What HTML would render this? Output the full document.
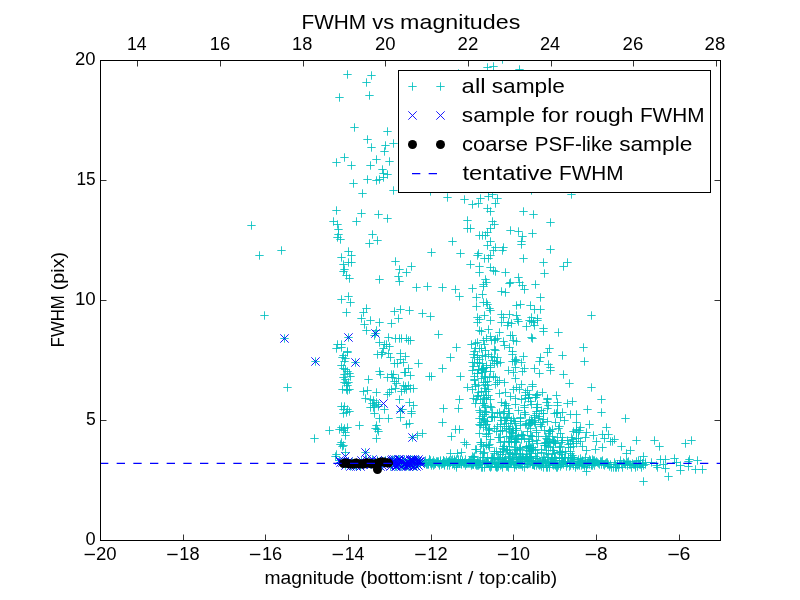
<!DOCTYPE html>
<html><head><meta charset="utf-8"><style>
html,body{margin:0;padding:0;background:#fff;}
body{width:800px;height:600px;position:relative;overflow:hidden;font-family:"Liberation Sans",sans-serif;color:#000;}
</style></head><body>
<svg width="800" height="600" viewBox="0 0 800 600" style="position:absolute;left:0;top:0;will-change:transform;font-family:&quot;Liberation Sans&quot;,sans-serif" fill="#000">
<rect x="0" y="0" width="800" height="600" fill="#fff"/>
<defs><clipPath id="cp"><rect x="100" y="60" width="621" height="481"/></clipPath></defs>
<g clip-path="url(#cp)">
<path d="M434.3 334.5H442.7M438.5 330.3V338.7M452.3 347.5H460.7M456.5 343.3V351.7M446.3 357.5H454.7M450.5 353.3V361.7M467.3 344.5H475.7M471.5 340.3V348.7M471.3 343.5H479.7M475.5 339.3V347.7M473.3 342.5H481.7M477.5 338.3V346.7M471.3 348.5H479.7M475.5 344.3V352.7M475.3 348.5H483.7M479.5 344.3V352.7M469.3 354.5H477.7M473.5 350.3V358.7M470.3 357.5H478.7M474.5 353.3V361.7M473.3 355.5H481.7M477.5 351.3V359.7M470.3 362.5H478.7M474.5 358.3V366.7M473.3 362.5H481.7M477.5 358.3V366.7M475.3 359.5H483.7M479.5 355.3V363.7M473.3 322.5H481.7M477.5 318.3V326.7M475.3 330.5H483.7M479.5 326.3V334.7M486.3 320.5H494.7M490.5 316.3V324.7M497.3 322.5H505.7M501.5 318.3V326.7M503.3 325.5H511.7M507.5 321.3V329.7M507.3 323.5H515.7M511.5 319.3V327.7M514.3 321.5H522.7M518.5 317.3V325.7M522.3 326.5H530.7M526.5 322.3V330.7M525.3 320.5H533.7M529.5 316.3V324.7M477.3 331.5H485.7M481.5 327.3V335.7M484.3 329.5H492.7M488.5 325.3V333.7M495.3 332.5H503.7M499.5 328.3V336.7M506.3 335.5H514.7M510.5 331.3V339.7M508.3 335.5H516.7M512.5 331.3V339.7M509.3 340.5H517.7M513.5 336.3V344.7M512.3 341.5H520.7M516.5 337.3V345.7M479.3 340.5H487.7M483.5 336.3V344.7M482.3 338.5H490.7M486.5 334.3V342.7M486.3 336.5H494.7M490.5 332.3V340.7M487.3 340.5H495.7M491.5 336.3V344.7M491.3 339.5H499.7M495.5 335.3V343.7M493.3 338.5H501.7M497.5 334.3V342.7M490.3 340.5H498.7M494.5 336.3V344.7M499.3 341.5H507.7M503.5 337.3V345.7M500.3 345.5H508.7M504.5 341.3V349.7M505.3 347.5H513.7M509.5 343.3V351.7M477.3 348.5H485.7M481.5 344.3V352.7M480.3 344.5H488.7M484.5 340.3V348.7M470.3 351.5H478.7M474.5 347.3V355.7M481.3 350.5H489.7M485.5 346.3V354.7M490.3 349.5H498.7M494.5 345.3V353.7M491.3 350.5H499.7M495.5 346.3V354.7M508.3 351.5H516.7M512.5 347.3V355.7M508.3 354.5H516.7M512.5 350.3V358.7M519.3 356.5H527.7M523.5 352.3V360.7M473.3 357.5H481.7M477.5 353.3V361.7M478.3 355.5H486.7M482.5 351.3V359.7M481.3 356.5H489.7M485.5 352.3V360.7M484.3 354.5H492.7M488.5 350.3V358.7M487.3 356.5H495.7M491.5 352.3V360.7M490.3 357.5H498.7M494.5 353.3V361.7M493.3 357.5H501.7M497.5 353.3V361.7M488.3 360.5H496.7M492.5 356.3V364.7M492.3 361.5H500.7M496.5 357.3V365.7M475.3 363.5H483.7M479.5 359.3V367.7M478.3 363.5H486.7M482.5 359.3V367.7M468.3 362.5H476.7M472.5 358.3V366.7M493.3 363.5H501.7M497.5 359.3V367.7M496.3 362.5H504.7M500.5 358.3V366.7M511.3 359.5H519.7M515.5 355.3V363.7M508.3 361.5H516.7M512.5 357.3V365.7M512.3 360.5H520.7M516.5 356.3V364.7M517.3 362.5H525.7M521.5 358.3V366.7M510.3 361.5H518.7M514.5 357.3V365.7M511.3 367.5H519.7M515.5 363.3V371.7M504.3 370.5H512.7M508.5 366.3V374.7M509.3 372.5H517.7M513.5 368.3V376.7M520.3 368.5H528.7M524.5 364.3V372.7M518.3 371.5H526.7M522.5 367.3V375.7M511.3 378.5H519.7M515.5 374.3V382.7M500.3 382.5H508.7M504.5 378.3V386.7M517.3 384.5H525.7M521.5 380.3V388.7M509.3 389.5H517.7M513.5 385.3V393.7M512.3 387.5H520.7M516.5 383.3V391.7M515.3 389.5H523.7M519.5 385.3V393.7M501.3 392.5H509.7M505.5 388.3V396.7M495.3 393.5H503.7M499.5 389.3V397.7M506.3 396.5H514.7M510.5 392.3V400.7M511.3 398.5H519.7M515.5 394.3V402.7M523.3 390.5H531.7M527.5 386.3V394.7M521.3 392.5H529.7M525.5 388.3V396.7M517.3 399.5H525.7M521.5 395.3V403.7M497.3 402.5H505.7M501.5 398.3V406.7M501.3 403.5H509.7M505.5 399.3V407.7M511.3 404.5H519.7M515.5 400.3V408.7M490.3 363.5H498.7M494.5 359.3V367.7M489.3 376.5H497.7M493.5 372.3V380.7M491.3 377.5H499.7M495.5 373.3V381.7M495.3 380.5H503.7M499.5 376.3V384.7M491.3 384.5H499.7M495.5 380.3V388.7M493.3 382.5H501.7M497.5 378.3V386.7M528.3 384.5H536.7M532.5 380.3V388.7M528.3 386.5H536.7M532.5 382.3V390.7M538.3 392.5H546.7M542.5 388.3V396.7M533.3 394.5H541.7M537.5 390.3V398.7M525.3 394.5H533.7M529.5 390.3V398.7M342.3 312.5H350.7M346.5 308.3V316.7M362.3 308.5H370.7M366.5 304.3V312.7M359.3 312.5H367.7M363.5 308.3V316.7M357.3 318.5H365.7M361.5 314.3V322.7M366.3 320.5H374.7M370.5 316.3V324.7M360.3 324.5H368.7M364.5 320.3V328.7M362.3 330.5H370.7M366.5 326.3V334.7M375.3 322.5H383.7M379.5 318.3V326.7M344.3 337.5H352.7M348.5 333.3V341.7M371.3 333.5H379.7M375.5 329.3V337.7M370.3 335.5H378.7M374.5 331.3V339.7M372.3 330.5H380.7M376.5 326.3V334.7M333.3 344.5H341.7M337.5 340.3V348.7M337.3 344.5H345.7M341.5 340.3V348.7M332.3 348.5H340.7M336.5 344.3V352.7M337.3 347.5H345.7M341.5 343.3V351.7M343.3 351.5H351.7M347.5 347.3V355.7M343.3 352.5H351.7M347.5 348.3V356.7M339.3 355.5H347.7M343.5 351.3V359.7M338.3 357.5H346.7M342.5 353.3V361.7M341.3 358.5H349.7M345.5 354.3V362.7M373.3 354.5H381.7M377.5 350.3V358.7M375.3 342.5H383.7M379.5 338.3V346.7M390.3 311.5H398.7M394.5 307.3V315.7M396.3 309.5H404.7M400.5 305.3V313.7M405.3 310.5H413.7M409.5 306.3V314.7M418.3 313.5H426.7M422.5 309.3V317.7M426.3 316.5H434.7M430.5 312.3V320.7M394.3 318.5H402.7M398.5 314.3V322.7M387.3 323.5H395.7M391.5 319.3V327.7M384.3 337.5H392.7M388.5 333.3V341.7M391.3 338.5H399.7M395.5 334.3V342.7M395.3 338.5H403.7M399.5 334.3V342.7M397.3 338.5H405.7M401.5 334.3V342.7M402.3 338.5H410.7M406.5 334.3V342.7M404.3 340.5H412.7M408.5 336.3V344.7M406.3 340.5H414.7M410.5 336.3V344.7M380.3 344.5H388.7M384.5 340.3V348.7M382.3 344.5H390.7M386.5 340.3V348.7M385.3 346.5H393.7M389.5 342.3V350.7M379.3 348.5H387.7M383.5 344.3V352.7M377.3 354.5H385.7M381.5 350.3V358.7M378.3 352.5H386.7M382.5 348.3V356.7M384.3 353.5H392.7M388.5 349.3V357.7M386.3 357.5H394.7M390.5 353.3V361.7M396.3 353.5H404.7M400.5 349.3V357.7M401.3 356.5H409.7M405.5 352.3V360.7M396.3 359.5H404.7M400.5 355.3V363.7M311.3 361.5H319.7M315.5 357.3V365.7M351.3 362.5H359.7M355.5 358.3V366.7M340.3 361.5H348.7M344.5 357.3V365.7M337.3 365.5H345.7M341.5 361.3V369.7M339.3 368.5H347.7M343.5 364.3V372.7M341.3 369.5H349.7M345.5 365.3V373.7M343.3 371.5H351.7M347.5 367.3V375.7M345.3 373.5H353.7M349.5 369.3V377.7M340.3 374.5H348.7M344.5 370.3V378.7M346.3 376.5H354.7M350.5 372.3V380.7M339.3 377.5H347.7M343.5 373.3V381.7M341.3 379.5H349.7M345.5 375.3V383.7M344.3 382.5H352.7M348.5 378.3V386.7M342.3 383.5H350.7M346.5 379.3V387.7M340.3 382.5H348.7M344.5 378.3V386.7M343.3 385.5H351.7M347.5 381.3V389.7M338.3 389.5H346.7M342.5 385.3V393.7M342.3 389.5H350.7M346.5 385.3V393.7M345.3 389.5H353.7M349.5 385.3V393.7M343.3 390.5H351.7M347.5 386.3V394.7M364.3 379.5H372.7M368.5 375.3V383.7M375.3 371.5H383.7M379.5 367.3V375.7M359.3 391.5H367.7M363.5 387.3V395.7M363.3 390.5H371.7M367.5 386.3V394.7M361.3 398.5H369.7M365.5 394.3V402.7M372.3 392.5H380.7M376.5 388.3V396.7M366.3 399.5H374.7M370.5 395.3V403.7M369.3 400.5H377.7M373.5 396.3V404.7M368.3 403.5H376.7M372.5 399.3V407.7M372.3 402.5H380.7M376.5 398.3V406.7M369.3 407.5H377.7M373.5 403.3V411.7M366.3 407.5H374.7M370.5 403.3V411.7M374.3 404.5H382.7M378.5 400.3V408.7M337.3 406.5H345.7M341.5 402.3V410.7M340.3 406.5H348.7M344.5 402.3V410.7M343.3 409.5H351.7M347.5 405.3V413.7M339.3 409.5H347.7M343.5 405.3V413.7M390.3 363.5H398.7M394.5 359.3V367.7M393.3 363.5H401.7M397.5 359.3V367.7M399.3 362.5H407.7M403.5 358.3V366.7M414.3 363.5H422.7M418.5 359.3V367.7M438.3 368.5H446.7M442.5 364.3V372.7M376.3 374.5H384.7M380.5 370.3V378.7M404.3 368.5H412.7M408.5 364.3V372.7M400.3 372.5H408.7M404.5 368.3V376.7M401.3 372.5H409.7M405.5 368.3V376.7M406.3 375.5H414.7M410.5 371.3V379.7M387.3 374.5H395.7M391.5 370.3V378.7M389.3 374.5H397.7M393.5 370.3V378.7M383.3 377.5H391.7M387.5 373.3V381.7M388.3 377.5H396.7M392.5 373.3V381.7M394.3 378.5H402.7M398.5 374.3V382.7M390.3 381.5H398.7M394.5 377.3V385.7M392.3 383.5H400.7M396.5 379.3V387.7M425.3 376.5H433.7M429.5 372.3V380.7M427.3 376.5H435.7M431.5 372.3V380.7M399.3 385.5H407.7M403.5 381.3V389.7M401.3 386.5H409.7M405.5 382.3V390.7M404.3 385.5H412.7M408.5 381.3V389.7M400.3 389.5H408.7M404.5 385.3V393.7M402.3 389.5H410.7M406.5 385.3V393.7M406.3 388.5H414.7M410.5 384.3V392.7M409.3 388.5H417.7M413.5 384.3V392.7M397.3 391.5H405.7M401.5 387.3V395.7M391.3 388.5H399.7M395.5 384.3V392.7M387.3 389.5H395.7M391.5 385.3V393.7M383.3 394.5H391.7M387.5 390.3V398.7M385.3 392.5H393.7M389.5 388.3V396.7M395.3 399.5H403.7M399.5 395.3V403.7M405.3 402.5H413.7M409.5 398.3V406.7M409.3 405.5H417.7M413.5 401.3V409.7M370.3 405.5H378.7M374.5 401.3V409.7M374.3 406.5H382.7M378.5 402.3V410.7M439.3 408.5H447.7M443.5 404.3V412.7M398.3 409.5H406.7M402.5 405.3V413.7M345.3 411.5H353.7M349.5 407.3V415.7M339.3 413.5H347.7M343.5 409.3V417.7M342.3 412.5H350.7M346.5 408.3V416.7M335.3 429.5H343.7M339.5 425.3V433.7M337.3 427.5H345.7M341.5 423.3V431.7M340.3 428.5H348.7M344.5 424.3V432.7M343.3 427.5H351.7M347.5 423.3V431.7M341.3 432.5H349.7M345.5 428.3V436.7M341.3 435.5H349.7M345.5 431.3V439.7M339.3 430.5H347.7M343.5 426.3V434.7M355.3 425.5H363.7M359.5 421.3V429.7M325.3 430.5H333.7M329.5 426.3V434.7M310.3 438.5H318.7M314.5 434.3V442.7M337.3 442.5H345.7M341.5 438.3V446.7M336.3 444.5H344.7M340.5 440.3V448.7M339.3 445.5H347.7M343.5 441.3V449.7M338.3 446.5H346.7M342.5 442.3V450.7M332.3 454.5H340.7M336.5 450.3V458.7M341.3 452.5H349.7M345.5 448.3V456.7M331.3 456.5H339.7M335.5 452.3V460.7M361.3 452.5H369.7M365.5 448.3V456.7M370.3 413.5H378.7M374.5 409.3V417.7M375.3 418.5H383.7M379.5 414.3V422.7M372.3 425.5H380.7M376.5 421.3V429.7M373.3 429.5H381.7M377.5 425.3V433.7M371.3 428.5H379.7M375.5 424.3V432.7M372.3 438.5H380.7M376.5 434.3V442.7M408.3 437.5H416.7M412.5 433.3V441.7M380.3 409.5H388.7M384.5 405.3V413.7M384.3 418.5H392.7M388.5 414.3V422.7M396.3 417.5H404.7M400.5 413.3V421.7M407.3 411.5H415.7M411.5 407.3V415.7M407.3 413.5H415.7M411.5 409.3V417.7M402.3 424.5H410.7M406.5 420.3V428.7M405.3 423.5H413.7M409.5 419.3V427.7M438.3 422.5H446.7M442.5 418.3V426.7M418.3 433.5H426.7M422.5 429.3V437.7M413.3 435.5H421.7M417.5 431.3V439.7M374.3 431.5H382.7M378.5 427.3V435.7M396.3 411.5H404.7M400.5 407.3V415.7M481.3 279.5H489.7M485.5 275.3V283.7M479.3 284.5H487.7M483.5 280.3V288.7M482.3 282.5H490.7M486.5 278.3V286.7M479.3 286.5H487.7M483.5 282.3V290.7M423.3 286.5H431.7M427.5 282.3V290.7M438.3 287.5H446.7M442.5 283.3V291.7M451.3 289.5H459.7M455.5 285.3V293.7M468.3 288.5H476.7M472.5 284.3V292.7M455.3 296.5H463.7M459.5 292.3V300.7M478.3 294.5H486.7M482.5 290.3V298.7M472.3 297.5H480.7M476.5 293.3V301.7M479.3 302.5H487.7M483.5 298.3V306.7M482.3 302.5H490.7M486.5 298.3V306.7M483.3 304.5H491.7M487.5 300.3V308.7M472.3 306.5H480.7M476.5 302.3V310.7M486.3 310.5H494.7M490.5 306.3V314.7M485.3 308.5H493.7M489.5 304.3V312.7M480.3 315.5H488.7M484.5 311.3V319.7M473.3 317.5H481.7M477.5 313.3V321.7M475.3 319.5H483.7M479.5 315.3V323.7M514.3 277.5H522.7M518.5 273.3V281.7M506.3 282.5H514.7M510.5 278.3V286.7M505.3 283.5H513.7M509.5 279.3V287.7M515.3 282.5H523.7M519.5 278.3V286.7M518.3 285.5H526.7M522.5 281.3V289.7M520.3 289.5H528.7M524.5 285.3V293.7M531.3 284.5H539.7M535.5 280.3V288.7M497.3 291.5H505.7M501.5 287.3V295.7M501.3 292.5H509.7M505.5 288.3V296.7M536.3 297.5H544.7M540.5 293.3V301.7M512.3 305.5H520.7M516.5 301.3V309.7M516.3 304.5H524.7M520.5 300.3V308.7M526.3 305.5H534.7M530.5 301.3V309.7M530.3 309.5H538.7M534.5 305.3V313.7M536.3 309.5H544.7M540.5 305.3V313.7M497.3 314.5H505.7M501.5 310.3V318.7M505.3 314.5H513.7M509.5 310.3V318.7M499.3 317.5H507.7M503.5 313.3V321.7M512.3 315.5H520.7M516.5 311.3V319.7M513.3 319.5H521.7M517.5 315.3V323.7M504.3 322.5H512.7M508.5 318.3V326.7M527.3 317.5H535.7M531.5 313.3V321.7M533.3 318.5H541.7M537.5 314.3V322.7M527.3 321.5H535.7M531.5 317.3V325.7M529.3 322.5H537.7M533.5 318.3V326.7M530.3 325.5H538.7M534.5 321.3V329.7M533.3 320.5H541.7M537.5 316.3V324.7M539.3 328.5H547.7M543.5 324.3V332.7M539.3 331.5H547.7M543.5 327.3V335.7M554.3 332.5H562.7M558.5 328.3V336.7M527.3 337.5H535.7M531.5 333.3V341.7M528.3 338.5H536.7M532.5 334.3V342.7M545.3 348.5H553.7M549.5 344.3V352.7M543.3 352.5H551.7M547.5 348.3V356.7M558.3 355.5H566.7M562.5 351.3V359.7M579.3 347.5H587.7M583.5 343.3V351.7M580.3 361.5H588.7M584.5 357.3V365.7M536.3 357.5H544.7M540.5 353.3V361.7M535.3 361.5H543.7M539.5 357.3V365.7M544.3 364.5H552.7M548.5 360.3V368.7M546.3 367.5H554.7M550.5 363.3V371.7M546.3 370.5H554.7M550.5 366.3V374.7M530.3 368.5H538.7M534.5 364.3V372.7M535.3 373.5H543.7M539.5 369.3V377.7M559.3 374.5H567.7M563.5 370.3V378.7M587.3 387.5H595.7M591.5 383.3V391.7M597.3 399.5H605.7M601.5 395.3V403.7M583.3 409.5H591.7M587.5 405.3V413.7M597.3 412.5H605.7M601.5 408.3V416.7M585.3 424.5H593.7M589.5 420.3V428.7M602.3 427.5H610.7M606.5 423.3V431.7M576.3 427.5H584.7M580.5 423.3V431.7M582.3 432.5H590.7M586.5 428.3V436.7M581.3 437.5H589.7M585.5 433.3V441.7M589.3 435.5H597.7M593.5 431.3V439.7M592.3 441.5H600.7M596.5 437.3V445.7M598.3 434.5H606.7M602.5 430.3V438.7M604.3 434.5H612.7M608.5 430.3V438.7M600.3 438.5H608.7M604.5 434.3V442.7M606.3 441.5H614.7M610.5 437.3V445.7M610.3 439.5H618.7M614.5 435.3V443.7M608.3 441.5H616.7M612.5 437.3V445.7M576.3 441.5H584.7M580.5 437.3V445.7M578.3 446.5H586.7M582.5 442.3V450.7M582.3 450.5H590.7M586.5 446.3V454.7M591.3 449.5H599.7M595.5 445.3V453.7M598.3 447.5H606.7M602.5 443.3V451.7M582.3 471.5H590.7M586.5 467.3V475.7M456.3 376.5H464.7M460.5 372.3V380.7M463.3 387.5H471.7M467.5 383.3V391.7M455.3 399.5H463.7M459.5 395.3V403.7M454.3 408.5H462.7M458.5 404.3V412.7M451.3 429.5H459.7M455.5 425.3V433.7M455.3 429.5H463.7M459.5 425.3V433.7M447.3 436.5H455.7M451.5 432.3V440.7M460.3 442.5H468.7M464.5 438.3V446.7M462.3 444.5H470.7M466.5 440.3V448.7M446.3 453.5H454.7M450.5 449.3V457.7M453.3 453.5H461.7M457.5 449.3V457.7M457.3 452.5H465.7M461.5 448.3V456.7M452.3 467.5H460.7M456.5 463.3V471.7M343.3 74.5H351.7M347.5 70.3V78.7M367.3 75.5H375.7M371.5 71.3V79.7M362.3 82.5H370.7M366.5 78.3V86.7M335.3 97.5H343.7M339.5 93.3V101.7M365.3 95.5H373.7M369.5 91.3V99.7M350.3 127.5H358.7M354.5 123.3V131.7M383.3 131.5H391.7M387.5 127.3V135.7M363.3 139.5H371.7M367.5 135.3V143.7M367.3 147.5H375.7M371.5 143.3V151.7M381.3 145.5H389.7M385.5 141.3V149.7M389.3 143.5H397.7M393.5 139.3V147.7M380.3 151.5H388.7M384.5 147.3V155.7M340.3 157.5H348.7M344.5 153.3V161.7M332.3 162.5H340.7M336.5 158.3V166.7M372.3 159.5H380.7M376.5 155.3V163.7M385.3 161.5H393.7M389.5 157.3V165.7M347.3 165.5H355.7M351.5 161.3V169.7M366.3 165.5H374.7M370.5 161.3V169.7M378.3 169.5H386.7M382.5 165.3V173.7M379.3 173.5H387.7M383.5 169.3V177.7M383.3 174.5H391.7M387.5 170.3V178.7M379.3 177.5H387.7M383.5 173.3V181.7M363.3 179.5H371.7M367.5 175.3V183.7M372.3 180.5H380.7M376.5 176.3V184.7M375.3 179.5H383.7M379.5 175.3V183.7M349.3 183.5H357.7M353.5 179.3V187.7M358.3 193.5H366.7M362.5 189.3V197.7M389.3 190.5H397.7M393.5 186.3V194.7M332.3 210.5H340.7M336.5 206.3V214.7M357.3 213.5H365.7M361.5 209.3V217.7M374.3 214.5H382.7M378.5 210.3V218.7M383.3 218.5H391.7M387.5 214.3V222.7M329.3 221.5H337.7M333.5 217.3V225.7M352.3 221.5H360.7M356.5 217.3V225.7M333.3 224.5H341.7M337.5 220.3V228.7M334.3 229.5H342.7M338.5 225.3V233.7M334.3 234.5H342.7M338.5 230.3V238.7M333.3 237.5H341.7M337.5 233.3V241.7M336.3 239.5H344.7M340.5 235.3V243.7M368.3 234.5H376.7M372.5 230.3V238.7M373.3 240.5H381.7M377.5 236.3V244.7M365.3 243.5H373.7M369.5 239.3V247.7M344.3 251.5H352.7M348.5 247.3V255.7M347.3 255.5H355.7M351.5 251.3V259.7M337.3 257.5H345.7M341.5 253.3V261.7M344.3 262.5H352.7M348.5 258.3V266.7M347.3 262.5H355.7M351.5 258.3V266.7M339.3 264.5H347.7M343.5 260.3V268.7M340.3 269.5H348.7M344.5 265.3V273.7M339.3 271.5H347.7M343.5 267.3V275.7M342.3 275.5H350.7M346.5 271.3V279.7M345.3 278.5H353.7M349.5 274.3V282.7M391.3 261.5H399.7M395.5 257.3V265.7M407.3 266.5H415.7M411.5 262.3V270.7M395.3 269.5H403.7M399.5 265.3V273.7M402.3 272.5H410.7M406.5 268.3V276.7M394.3 276.5H402.7M398.5 272.3V280.7M395.3 281.5H403.7M399.5 277.3V285.7M375.3 279.5H383.7M379.5 275.3V283.7M412.3 287.5H420.7M416.5 283.3V291.7M344.3 296.5H352.7M348.5 292.3V300.7M337.3 299.5H345.7M341.5 295.3V303.7M346.3 302.5H354.7M350.5 298.3V306.7M443.3 197.5H451.7M447.5 193.3V201.7M460.3 199.5H468.7M464.5 195.3V203.7M476.3 198.5H484.7M480.5 194.3V202.7M484.3 196.5H492.7M488.5 192.3V200.7M488.3 194.5H496.7M492.5 190.3V198.7M493.3 198.5H501.7M497.5 194.3V202.7M468.3 204.5H476.7M472.5 200.3V208.7M474.3 203.5H482.7M478.5 199.3V207.7M491.3 203.5H499.7M495.5 199.3V207.7M483.3 208.5H491.7M487.5 204.3V212.7M486.3 211.5H494.7M490.5 207.3V215.7M463.3 220.5H471.7M467.5 216.3V224.7M488.3 221.5H496.7M492.5 217.3V225.7M490.3 224.5H498.7M494.5 220.3V228.7M463.3 228.5H471.7M467.5 224.3V232.7M466.3 228.5H474.7M470.5 224.3V232.7M486.3 228.5H494.7M490.5 224.3V232.7M483.3 232.5H491.7M487.5 228.3V236.7M475.3 235.5H483.7M479.5 231.3V239.7M478.3 235.5H486.7M482.5 231.3V239.7M481.3 235.5H489.7M485.5 231.3V239.7M448.3 241.5H456.7M452.5 237.3V245.7M486.3 241.5H494.7M490.5 237.3V245.7M483.3 245.5H491.7M487.5 241.3V249.7M491.3 247.5H499.7M495.5 243.3V251.7M499.3 247.5H507.7M503.5 243.3V251.7M498.3 250.5H506.7M502.5 246.3V254.7M489.3 250.5H497.7M493.5 246.3V254.7M427.3 252.5H435.7M431.5 248.3V256.7M456.3 253.5H464.7M460.5 249.3V257.7M474.3 253.5H482.7M478.5 249.3V257.7M473.3 255.5H481.7M477.5 251.3V259.7M486.3 255.5H494.7M490.5 251.3V259.7M480.3 258.5H488.7M484.5 254.3V262.7M484.3 258.5H492.7M488.5 254.3V262.7M466.3 264.5H474.7M470.5 260.3V268.7M475.3 266.5H483.7M479.5 262.3V270.7M486.3 267.5H494.7M490.5 263.3V271.7M489.3 270.5H497.7M493.5 266.3V274.7M491.3 271.5H499.7M495.5 267.3V275.7M475.3 272.5H483.7M479.5 268.3V276.7M501.3 272.5H509.7M505.5 268.3V276.7M567.3 194.5H575.7M571.5 190.3V198.7M519.3 211.5H527.7M523.5 207.3V215.7M529.3 214.5H537.7M533.5 210.3V218.7M546.3 222.5H554.7M550.5 218.3V226.7M506.3 230.5H514.7M510.5 226.3V234.7M514.3 231.5H522.7M518.5 227.3V235.7M518.3 236.5H526.7M522.5 232.3V240.7M528.3 233.5H536.7M532.5 229.3V237.7M517.3 241.5H525.7M521.5 237.3V245.7M517.3 244.5H525.7M521.5 240.3V248.7M546.3 249.5H554.7M550.5 245.3V253.7M519.3 258.5H527.7M523.5 254.3V262.7M539.3 262.5H547.7M543.5 258.3V266.7M563.3 262.5H571.7M567.5 258.3V266.7M559.3 266.5H567.7M563.5 262.3V270.7M540.3 273.5H548.7M544.5 269.3V277.7M621.3 418.5H629.7M625.5 414.3V422.7M617.3 446.5H625.7M621.5 442.3V450.7M632.3 440.5H640.7M636.5 436.3V444.7M650.3 440.5H658.7M654.5 436.3V444.7M655.3 446.5H663.7M659.5 442.3V450.7M681.3 443.5H689.7M685.5 439.3V447.7M687.3 440.5H695.7M691.5 436.3V444.7M626.3 450.5H634.7M630.5 446.3V454.7M622.3 453.5H630.7M626.5 449.3V457.7M639.3 456.5H647.7M643.5 452.3V460.7M639.3 481.5H647.7M643.5 477.3V485.7M664.3 476.5H672.7M668.5 472.3V480.7M647.3 462.5H655.7M651.5 458.3V466.7M652.3 465.5H660.7M656.5 461.3V469.7M653.3 467.5H661.7M657.5 463.3V471.7M656.3 459.5H664.7M660.5 455.3V463.7M661.3 459.5H669.7M665.5 455.3V463.7M659.3 464.5H667.7M663.5 460.3V468.7M661.3 468.5H669.7M665.5 464.3V472.7M670.3 458.5H678.7M674.5 454.3V462.7M672.3 462.5H680.7M676.5 458.3V466.7M676.3 465.5H684.7M680.5 461.3V469.7M676.3 470.5H684.7M680.5 466.3V474.7M684.3 461.5H692.7M688.5 457.3V465.7M685.3 459.5H693.7M689.5 455.3V463.7M684.3 466.5H692.7M688.5 462.3V470.7M693.3 460.5H701.7M697.5 456.3V464.7M691.3 469.5H699.7M695.5 465.3V473.7M698.3 469.5H706.7M702.5 465.3V473.7M587.3 315.5H595.7M591.5 311.3V319.7M565.3 383.5H573.7M569.5 379.3V387.7M247.3 225.5H255.7M251.5 221.3V229.7M255.3 255.5H263.7M259.5 251.3V259.7M277.3 250.5H285.7M281.5 246.3V254.7M260.3 315.5H268.7M264.5 311.3V319.7M280.3 338.5H288.7M284.5 334.3V342.7M283.3 387.5H291.7M287.5 383.3V391.7M483.3 67.5H491.7M487.5 63.3V71.7M489.3 66.5H497.7M493.5 62.3V70.7M498.3 59.5H506.7M502.5 55.3V63.7M515.3 69.5H523.7M519.5 65.3V73.7M454.3 73.5H462.7M458.5 69.3V77.7M426.3 191.5H434.7M430.5 187.3V195.7M527.3 190.5H535.7M531.5 186.3V194.7M468.3 370.5H476.7M472.5 366.3V374.7M469.3 366.5H477.7M473.5 362.3V370.7M474.3 369.5H482.7M478.5 365.3V373.7M473.3 373.5H481.7M477.5 369.3V377.7M473.3 373.5H481.7M477.5 369.3V377.7M474.3 369.5H482.7M478.5 365.3V373.7M482.3 365.5H490.7M486.5 361.3V369.7M479.3 368.5H487.7M483.5 364.3V372.7M478.3 369.5H486.7M482.5 365.3V373.7M477.3 369.5H485.7M481.5 365.3V373.7M482.3 367.5H490.7M486.5 363.3V371.7M486.3 367.5H494.7M490.5 363.3V371.7M481.3 371.5H489.7M485.5 367.3V375.7M486.3 371.5H494.7M490.5 367.3V375.7M479.3 368.5H487.7M483.5 364.3V372.7M477.3 370.5H485.7M481.5 366.3V374.7M478.3 372.5H486.7M482.5 368.3V376.7M486.3 365.5H494.7M490.5 361.3V369.7M471.3 384.5H479.7M475.5 380.3V388.7M470.3 376.5H478.7M474.5 372.3V380.7M471.3 386.5H479.7M475.5 382.3V390.7M474.3 385.5H482.7M478.5 381.3V389.7M470.3 379.5H478.7M474.5 375.3V383.7M468.3 389.5H476.7M472.5 385.3V393.7M470.3 380.5H478.7M474.5 376.3V384.7M481.3 384.5H489.7M485.5 380.3V388.7M479.3 382.5H487.7M483.5 378.3V386.7M477.3 378.5H485.7M481.5 374.3V382.7M485.3 377.5H493.7M489.5 373.3V381.7M483.3 381.5H491.7M487.5 377.3V385.7M481.3 382.5H489.7M485.5 378.3V386.7M484.3 389.5H492.7M488.5 385.3V393.7M480.3 388.5H488.7M484.5 384.3V392.7M480.3 376.5H488.7M484.5 372.3V380.7M481.3 377.5H489.7M485.5 373.3V381.7M483.3 385.5H491.7M487.5 381.3V389.7M471.3 403.5H479.7M475.5 399.3V407.7M474.3 392.5H482.7M478.5 388.3V396.7M469.3 398.5H477.7M473.5 394.3V402.7M474.3 395.5H482.7M478.5 391.3V399.7M472.3 399.5H480.7M476.5 395.3V403.7M473.3 396.5H481.7M477.5 392.3V400.7M482.3 391.5H490.7M486.5 387.3V395.7M482.3 397.5H490.7M486.5 393.3V401.7M481.3 391.5H489.7M485.5 387.3V395.7M486.3 399.5H494.7M490.5 395.3V403.7M477.3 391.5H485.7M481.5 387.3V395.7M476.3 399.5H484.7M480.5 395.3V403.7M480.3 398.5H488.7M484.5 394.3V402.7M479.3 395.5H487.7M483.5 391.3V399.7M478.3 403.5H486.7M482.5 399.3V407.7M482.3 399.5H490.7M486.5 395.3V403.7M484.3 395.5H492.7M488.5 391.3V399.7M479.3 403.5H487.7M483.5 399.3V407.7M531.3 397.5H539.7M535.5 393.3V401.7M531.3 397.5H539.7M535.5 393.3V401.7M526.3 401.5H534.7M530.5 397.3V405.7M524.3 397.5H532.7M528.5 393.3V401.7M521.3 398.5H529.7M525.5 394.3V402.7M532.3 395.5H540.7M536.5 391.3V399.7M533.3 404.5H541.7M537.5 400.3V408.7M524.3 398.5H532.7M528.5 394.3V402.7M527.3 404.5H535.7M531.5 400.3V408.7M521.3 395.5H529.7M525.5 391.3V399.7M543.3 398.5H551.7M547.5 394.3V402.7M553.3 402.5H561.7M557.5 398.3V406.7M552.3 395.5H560.7M556.5 391.3V399.7M543.3 399.5H551.7M547.5 395.3V403.7M542.3 402.5H550.7M546.5 398.3V406.7M563.3 403.5H571.7M567.5 399.3V407.7M568.3 401.5H576.7M572.5 397.3V405.7M475.3 410.5H483.7M479.5 406.3V414.7M475.3 418.5H483.7M479.5 414.3V422.7M476.3 412.5H484.7M480.5 408.3V416.7M487.3 417.5H495.7M491.5 413.3V421.7M478.3 418.5H486.7M482.5 414.3V422.7M479.3 419.5H487.7M483.5 415.3V423.7M488.3 417.5H496.7M492.5 413.3V421.7M482.3 412.5H490.7M486.5 408.3V416.7M481.3 411.5H489.7M485.5 407.3V415.7M486.3 406.5H494.7M490.5 402.3V410.7M488.3 412.5H496.7M492.5 408.3V416.7M488.3 416.5H496.7M492.5 412.3V420.7M478.3 416.5H486.7M482.5 412.3V420.7M481.3 407.5H489.7M485.5 403.3V411.7M480.3 405.5H488.7M484.5 401.3V409.7M480.3 414.5H488.7M484.5 410.3V418.7M490.3 417.5H498.7M494.5 413.3V421.7M480.3 414.5H488.7M484.5 410.3V418.7M495.3 412.5H503.7M499.5 408.3V416.7M487.3 407.5H495.7M491.5 403.3V411.7M493.3 413.5H501.7M497.5 409.3V417.7M500.3 405.5H508.7M504.5 401.3V409.7M496.3 417.5H504.7M500.5 413.3V421.7M499.3 413.5H507.7M503.5 409.3V417.7M500.3 411.5H508.7M504.5 407.3V415.7M502.3 418.5H510.7M506.5 414.3V422.7M502.3 405.5H510.7M506.5 401.3V409.7M504.3 408.5H512.7M508.5 404.3V412.7M505.3 413.5H513.7M509.5 409.3V417.7M503.3 417.5H511.7M507.5 413.3V421.7M514.3 410.5H522.7M518.5 406.3V414.7M504.3 413.5H512.7M508.5 409.3V417.7M509.3 418.5H517.7M513.5 414.3V422.7M520.3 405.5H528.7M524.5 401.3V409.7M527.3 419.5H535.7M531.5 415.3V423.7M530.3 415.5H538.7M534.5 411.3V419.7M534.3 418.5H542.7M538.5 414.3V422.7M532.3 411.5H540.7M536.5 407.3V415.7M532.3 407.5H540.7M536.5 403.3V411.7M533.3 407.5H541.7M537.5 403.3V411.7M532.3 413.5H540.7M536.5 409.3V417.7M516.3 418.5H524.7M520.5 414.3V422.7M530.3 417.5H538.7M534.5 413.3V421.7M521.3 414.5H529.7M525.5 410.3V418.7M516.3 417.5H524.7M520.5 413.3V421.7M520.3 407.5H528.7M524.5 403.3V411.7M520.3 412.5H528.7M524.5 408.3V416.7M535.3 416.5H543.7M539.5 412.3V420.7M539.3 413.5H547.7M543.5 409.3V417.7M537.3 410.5H545.7M541.5 406.3V414.7M552.3 413.5H560.7M556.5 409.3V417.7M553.3 412.5H561.7M557.5 408.3V416.7M539.3 419.5H547.7M543.5 415.3V423.7M553.3 405.5H561.7M557.5 401.3V409.7M543.3 408.5H551.7M547.5 404.3V412.7M544.3 405.5H552.7M548.5 401.3V409.7M539.3 413.5H547.7M543.5 409.3V417.7M550.3 413.5H558.7M554.5 409.3V417.7M556.3 417.5H564.7M560.5 413.3V421.7M558.3 412.5H566.7M562.5 408.3V416.7M566.3 414.5H574.7M570.5 410.3V418.7M572.3 414.5H580.7M576.5 410.3V418.7M475.3 424.5H483.7M479.5 420.3V428.7M475.3 433.5H483.7M479.5 429.3V437.7M483.3 421.5H491.7M487.5 417.3V425.7M484.3 433.5H492.7M488.5 429.3V437.7M479.3 427.5H487.7M483.5 423.3V431.7M476.3 425.5H484.7M480.5 421.3V429.7M493.3 426.5H501.7M497.5 422.3V430.7M484.3 429.5H492.7M488.5 425.3V433.7M480.3 420.5H488.7M484.5 416.3V424.7M492.3 431.5H500.7M496.5 427.3V435.7M483.3 421.5H491.7M487.5 417.3V425.7M481.3 424.5H489.7M485.5 420.3V428.7M477.3 422.5H485.7M481.5 418.3V426.7M482.3 434.5H490.7M486.5 430.3V438.7M485.3 430.5H493.7M489.5 426.3V434.7M485.3 428.5H493.7M489.5 424.3V432.7M482.3 424.5H490.7M486.5 420.3V428.7M490.3 428.5H498.7M494.5 424.3V432.7M481.3 424.5H489.7M485.5 420.3V428.7M507.3 432.5H515.7M511.5 428.3V436.7M496.3 424.5H504.7M500.5 420.3V428.7M497.3 420.5H505.7M501.5 416.3V424.7M496.3 431.5H504.7M500.5 427.3V435.7M512.3 428.5H520.7M516.5 424.3V432.7M502.3 428.5H510.7M506.5 424.3V432.7M511.3 423.5H519.7M515.5 419.3V427.7M510.3 421.5H518.7M514.5 417.3V425.7M509.3 430.5H517.7M513.5 426.3V434.7M511.3 428.5H519.7M515.5 424.3V432.7M508.3 428.5H516.7M512.5 424.3V432.7M505.3 431.5H513.7M509.5 427.3V435.7M502.3 423.5H510.7M506.5 419.3V427.7M506.3 423.5H514.7M510.5 419.3V427.7M500.3 426.5H508.7M504.5 422.3V430.7M507.3 420.5H515.7M511.5 416.3V424.7M500.3 420.5H508.7M504.5 416.3V424.7M498.3 430.5H506.7M502.5 426.3V434.7M504.3 426.5H512.7M508.5 422.3V430.7M501.3 420.5H509.7M505.5 416.3V424.7M498.3 430.5H506.7M502.5 426.3V434.7M508.3 433.5H516.7M512.5 429.3V437.7M512.3 430.5H520.7M516.5 426.3V434.7M505.3 429.5H513.7M509.5 425.3V433.7M523.3 431.5H531.7M527.5 427.3V435.7M525.3 420.5H533.7M529.5 416.3V424.7M530.3 422.5H538.7M534.5 418.3V426.7M521.3 424.5H529.7M525.5 420.3V428.7M530.3 420.5H538.7M534.5 416.3V424.7M524.3 425.5H532.7M528.5 421.3V429.7M526.3 428.5H534.7M530.5 424.3V432.7M526.3 423.5H534.7M530.5 419.3V427.7M517.3 434.5H525.7M521.5 430.3V438.7M525.3 423.5H533.7M529.5 419.3V427.7M527.3 422.5H535.7M531.5 418.3V426.7M516.3 425.5H524.7M520.5 421.3V429.7M528.3 421.5H536.7M532.5 417.3V425.7M531.3 424.5H539.7M535.5 420.3V428.7M532.3 430.5H540.7M536.5 426.3V434.7M522.3 423.5H530.7M526.5 419.3V427.7M532.3 432.5H540.7M536.5 428.3V436.7M516.3 421.5H524.7M520.5 417.3V425.7M544.3 433.5H552.7M548.5 429.3V437.7M538.3 422.5H546.7M542.5 418.3V426.7M548.3 429.5H556.7M552.5 425.3V433.7M537.3 426.5H545.7M541.5 422.3V430.7M536.3 424.5H544.7M540.5 420.3V428.7M545.3 430.5H553.7M549.5 426.3V434.7M543.3 421.5H551.7M547.5 417.3V425.7M554.3 428.5H562.7M558.5 424.3V432.7M540.3 430.5H548.7M544.5 426.3V434.7M555.3 426.5H563.7M559.5 422.3V430.7M546.3 431.5H554.7M550.5 427.3V435.7M551.3 422.5H559.7M555.5 418.3V426.7M545.3 431.5H553.7M549.5 427.3V435.7M575.3 430.5H583.7M579.5 426.3V434.7M560.3 420.5H568.7M564.5 416.3V424.7M572.3 430.5H580.7M576.5 426.3V434.7M569.3 431.5H577.7M573.5 427.3V435.7M572.3 422.5H580.7M576.5 418.3V426.7M572.3 432.5H580.7M576.5 428.3V436.7M572.3 429.5H580.7M576.5 425.3V433.7M556.3 433.5H564.7M560.5 429.3V437.7M574.3 432.5H582.7M578.5 428.3V436.7M472.3 449.5H480.7M476.5 445.3V453.7M471.3 449.5H479.7M475.5 445.3V453.7M485.3 447.5H493.7M489.5 443.3V451.7M477.3 444.5H485.7M481.5 440.3V448.7M482.3 436.5H490.7M486.5 432.3V440.7M495.3 437.5H503.7M499.5 433.3V441.7M486.3 439.5H494.7M490.5 435.3V443.7M485.3 444.5H493.7M489.5 440.3V448.7M494.3 437.5H502.7M498.5 433.3V441.7M476.3 442.5H484.7M480.5 438.3V446.7M477.3 442.5H485.7M481.5 438.3V446.7M484.3 445.5H492.7M488.5 441.3V449.7M479.3 446.5H487.7M483.5 442.3V450.7M482.3 445.5H490.7M486.5 441.3V449.7M511.3 439.5H519.7M515.5 435.3V443.7M512.3 439.5H520.7M516.5 435.3V443.7M510.3 442.5H518.7M514.5 438.3V446.7M510.3 447.5H518.7M514.5 443.3V451.7M499.3 449.5H507.7M503.5 445.3V453.7M513.3 438.5H521.7M517.5 434.3V442.7M505.3 436.5H513.7M509.5 432.3V440.7M511.3 435.5H519.7M515.5 431.3V439.7M505.3 442.5H513.7M509.5 438.3V446.7M498.3 448.5H506.7M502.5 444.3V452.7M512.3 442.5H520.7M516.5 438.3V446.7M504.3 441.5H512.7M508.5 437.3V445.7M502.3 449.5H510.7M506.5 445.3V453.7M502.3 436.5H510.7M506.5 432.3V440.7M514.3 436.5H522.7M518.5 432.3V440.7M500.3 446.5H508.7M504.5 442.3V450.7M512.3 439.5H520.7M516.5 435.3V443.7M507.3 437.5H515.7M511.5 433.3V441.7M515.3 448.5H523.7M519.5 444.3V452.7M512.3 439.5H520.7M516.5 435.3V443.7M499.3 446.5H507.7M503.5 442.3V450.7M507.3 438.5H515.7M511.5 434.3V442.7M511.3 449.5H519.7M515.5 445.3V453.7M511.3 441.5H519.7M515.5 437.3V445.7M496.3 437.5H504.7M500.5 433.3V441.7M496.3 442.5H504.7M500.5 438.3V446.7M510.3 441.5H518.7M514.5 437.3V445.7M505.3 446.5H513.7M509.5 442.3V450.7M500.3 441.5H508.7M504.5 437.3V445.7M507.3 441.5H515.7M511.5 437.3V445.7M506.3 436.5H514.7M510.5 432.3V440.7M526.3 435.5H534.7M530.5 431.3V439.7M526.3 447.5H534.7M530.5 443.3V451.7M526.3 448.5H534.7M530.5 444.3V452.7M528.3 436.5H536.7M532.5 432.3V440.7M522.3 446.5H530.7M526.5 442.3V450.7M516.3 449.5H524.7M520.5 445.3V453.7M525.3 439.5H533.7M529.5 435.3V443.7M527.3 436.5H535.7M531.5 432.3V440.7M528.3 441.5H536.7M532.5 437.3V445.7M534.3 436.5H542.7M538.5 432.3V440.7M527.3 449.5H535.7M531.5 445.3V453.7M529.3 447.5H537.7M533.5 443.3V451.7M524.3 448.5H532.7M528.5 444.3V452.7M517.3 439.5H525.7M521.5 435.3V443.7M519.3 435.5H527.7M523.5 431.3V439.7M525.3 445.5H533.7M529.5 441.3V449.7M520.3 438.5H528.7M524.5 434.3V442.7M524.3 441.5H532.7M528.5 437.3V445.7M532.3 440.5H540.7M536.5 436.3V444.7M522.3 447.5H530.7M526.5 443.3V451.7M527.3 447.5H535.7M531.5 443.3V451.7M529.3 449.5H537.7M533.5 445.3V453.7M516.3 447.5H524.7M520.5 443.3V451.7M528.3 449.5H536.7M532.5 445.3V453.7M533.3 443.5H541.7M537.5 439.3V447.7M522.3 446.5H530.7M526.5 442.3V450.7M518.3 435.5H526.7M522.5 431.3V439.7M549.3 442.5H557.7M553.5 438.3V446.7M555.3 447.5H563.7M559.5 443.3V451.7M540.3 445.5H548.7M544.5 441.3V449.7M545.3 442.5H553.7M549.5 438.3V446.7M537.3 449.5H545.7M541.5 445.3V453.7M553.3 437.5H561.7M557.5 433.3V441.7M541.3 442.5H549.7M545.5 438.3V446.7M549.3 440.5H557.7M553.5 436.3V444.7M545.3 439.5H553.7M549.5 435.3V443.7M544.3 446.5H552.7M548.5 442.3V450.7M544.3 441.5H552.7M548.5 437.3V445.7M543.3 439.5H551.7M547.5 435.3V443.7M551.3 443.5H559.7M555.5 439.3V447.7M548.3 436.5H556.7M552.5 432.3V440.7M541.3 445.5H549.7M545.5 441.3V449.7M541.3 436.5H549.7M545.5 432.3V440.7M542.3 443.5H550.7M546.5 439.3V447.7M551.3 443.5H559.7M555.5 439.3V447.7M543.3 442.5H551.7M547.5 438.3V446.7M546.3 447.5H554.7M550.5 443.3V451.7M550.3 441.5H558.7M554.5 437.3V445.7M540.3 443.5H548.7M544.5 439.3V447.7M542.3 438.5H550.7M546.5 434.3V442.7M558.3 437.5H566.7M562.5 433.3V441.7M566.3 443.5H574.7M570.5 439.3V447.7M558.3 440.5H566.7M562.5 436.3V444.7M563.3 440.5H571.7M567.5 436.3V444.7M564.3 447.5H572.7M568.5 443.3V451.7M574.3 438.5H582.7M578.5 434.3V442.7M556.3 446.5H564.7M560.5 442.3V450.7M569.3 441.5H577.7M573.5 437.3V445.7M569.3 446.5H577.7M573.5 442.3V450.7M572.3 438.5H580.7M576.5 434.3V442.7M568.3 439.5H576.7M572.5 435.3V443.7M566.3 447.5H574.7M570.5 443.3V451.7M557.3 442.5H565.7M561.5 438.3V446.7M564.3 444.5H572.7M568.5 440.3V448.7M567.3 437.5H575.7M571.5 433.3V441.7M572.3 443.5H580.7M576.5 439.3V447.7M468.3 456.5H476.7M472.5 452.3V460.7M470.3 456.5H478.7M474.5 452.3V460.7M469.3 457.5H477.7M473.5 453.3V461.7M494.3 457.5H502.7M498.5 453.3V461.7M476.3 451.5H484.7M480.5 447.3V455.7M488.3 457.5H496.7M492.5 453.3V461.7M490.3 453.5H498.7M494.5 449.3V457.7M479.3 453.5H487.7M483.5 449.3V457.7M480.3 452.5H488.7M484.5 448.3V456.7M492.3 451.5H500.7M496.5 447.3V455.7M490.3 451.5H498.7M494.5 447.3V455.7M513.3 450.5H521.7M517.5 446.3V454.7M496.3 452.5H504.7M500.5 448.3V456.7M503.3 450.5H511.7M507.5 446.3V454.7M505.3 452.5H513.7M509.5 448.3V456.7M504.3 456.5H512.7M508.5 452.3V460.7M499.3 451.5H507.7M503.5 447.3V455.7M498.3 454.5H506.7M502.5 450.3V458.7M512.3 453.5H520.7M516.5 449.3V457.7M508.3 454.5H516.7M512.5 450.3V458.7M503.3 450.5H511.7M507.5 446.3V454.7M496.3 454.5H504.7M500.5 450.3V458.7M510.3 454.5H518.7M514.5 450.3V458.7M506.3 453.5H514.7M510.5 449.3V457.7M511.3 453.5H519.7M515.5 449.3V457.7M533.3 453.5H541.7M537.5 449.3V457.7M516.3 456.5H524.7M520.5 452.3V460.7M525.3 450.5H533.7M529.5 446.3V454.7M516.3 453.5H524.7M520.5 449.3V457.7M531.3 456.5H539.7M535.5 452.3V460.7M518.3 454.5H526.7M522.5 450.3V458.7M523.3 456.5H531.7M527.5 452.3V460.7M527.3 453.5H535.7M531.5 449.3V457.7M531.3 450.5H539.7M535.5 446.3V454.7M526.3 456.5H534.7M530.5 452.3V460.7M527.3 456.5H535.7M531.5 452.3V460.7M522.3 450.5H530.7M526.5 446.3V454.7M525.3 451.5H533.7M529.5 447.3V455.7M522.3 457.5H530.7M526.5 453.3V461.7M522.3 454.5H530.7M526.5 450.3V458.7M542.3 453.5H550.7M546.5 449.3V457.7M550.3 453.5H558.7M554.5 449.3V457.7M544.3 454.5H552.7M548.5 450.3V458.7M539.3 457.5H547.7M543.5 453.3V461.7M555.3 452.5H563.7M559.5 448.3V456.7M543.3 457.5H551.7M547.5 453.3V461.7M549.3 450.5H557.7M553.5 446.3V454.7M555.3 452.5H563.7M559.5 448.3V456.7M548.3 450.5H556.7M552.5 446.3V454.7M542.3 450.5H550.7M546.5 446.3V454.7M555.3 452.5H563.7M559.5 448.3V456.7M549.3 450.5H557.7M553.5 446.3V454.7M537.3 452.5H545.7M541.5 448.3V456.7M568.3 457.5H576.7M572.5 453.3V461.7M566.3 451.5H574.7M570.5 447.3V455.7M558.3 452.5H566.7M562.5 448.3V456.7M566.3 453.5H574.7M570.5 449.3V457.7M561.3 457.5H569.7M565.5 453.3V461.7M557.3 454.5H565.7M561.5 450.3V458.7M568.3 455.5H576.7M572.5 451.3V459.7M566.3 457.5H574.7M570.5 453.3V461.7M561.3 451.5H569.7M565.5 447.3V455.7M556.3 451.5H564.7M560.5 447.3V455.7M420.3 462.5H428.7M424.5 458.3V466.7M420.3 463.5H428.7M424.5 459.3V467.7M421.3 460.5H429.7M425.5 456.3V464.7M421.3 462.5H429.7M425.5 458.3V466.7M421.3 462.5H429.7M425.5 458.3V466.7M422.3 463.5H430.7M426.5 459.3V467.7M422.3 464.5H430.7M426.5 460.3V468.7M423.3 464.5H431.7M427.5 460.3V468.7M424.3 462.5H432.7M428.5 458.3V466.7M424.3 464.5H432.7M428.5 460.3V468.7M424.3 463.5H432.7M428.5 459.3V467.7M424.3 463.5H432.7M428.5 459.3V467.7M425.3 459.5H433.7M429.5 455.3V463.7M425.3 459.5H433.7M429.5 455.3V463.7M426.3 460.5H434.7M430.5 456.3V464.7M426.3 463.5H434.7M430.5 459.3V467.7M427.3 463.5H435.7M431.5 459.3V467.7M427.3 465.5H435.7M431.5 461.3V469.7M428.3 463.5H436.7M432.5 459.3V467.7M428.3 462.5H436.7M432.5 458.3V466.7M429.3 465.5H437.7M433.5 461.3V469.7M429.3 460.5H437.7M433.5 456.3V464.7M430.3 462.5H438.7M434.5 458.3V466.7M430.3 464.5H438.7M434.5 460.3V468.7M431.3 463.5H439.7M435.5 459.3V467.7M431.3 463.5H439.7M435.5 459.3V467.7M432.3 461.5H440.7M436.5 457.3V465.7M433.3 461.5H441.7M437.5 457.3V465.7M433.3 462.5H441.7M437.5 458.3V466.7M434.3 461.5H442.7M438.5 457.3V465.7M434.3 463.5H442.7M438.5 459.3V467.7M435.3 464.5H443.7M439.5 460.3V468.7M435.3 465.5H443.7M439.5 461.3V469.7M436.3 462.5H444.7M440.5 458.3V466.7M436.3 461.5H444.7M440.5 457.3V465.7M436.3 460.5H444.7M440.5 456.3V464.7M437.3 464.5H445.7M441.5 460.3V468.7M438.3 463.5H446.7M442.5 459.3V467.7M438.3 463.5H446.7M442.5 459.3V467.7M439.3 460.5H447.7M443.5 456.3V464.7M439.3 460.5H447.7M443.5 456.3V464.7M439.3 463.5H447.7M443.5 459.3V467.7M440.3 464.5H448.7M444.5 460.3V468.7M440.3 461.5H448.7M444.5 457.3V465.7M440.3 465.5H448.7M444.5 461.3V469.7M441.3 462.5H449.7M445.5 458.3V466.7M442.3 460.5H450.7M446.5 456.3V464.7M443.3 462.5H451.7M447.5 458.3V466.7M443.3 465.5H451.7M447.5 461.3V469.7M443.3 462.5H451.7M447.5 458.3V466.7M444.3 462.5H452.7M448.5 458.3V466.7M444.3 461.5H452.7M448.5 457.3V465.7M445.3 461.5H453.7M449.5 457.3V465.7M445.3 465.5H453.7M449.5 461.3V469.7M445.3 460.5H453.7M449.5 456.3V464.7M446.3 462.5H454.7M450.5 458.3V466.7M446.3 462.5H454.7M450.5 458.3V466.7M447.3 460.5H455.7M451.5 456.3V464.7M448.3 459.5H456.7M452.5 455.3V463.7M448.3 464.5H456.7M452.5 460.3V468.7M449.3 462.5H457.7M453.5 458.3V466.7M449.3 463.5H457.7M453.5 459.3V467.7M449.3 462.5H457.7M453.5 458.3V466.7M450.3 459.5H458.7M454.5 455.3V463.7M450.3 465.5H458.7M454.5 461.3V469.7M450.3 460.5H458.7M454.5 456.3V464.7M451.3 461.5H459.7M455.5 457.3V465.7M451.3 462.5H459.7M455.5 458.3V466.7M452.3 459.5H460.7M456.5 455.3V463.7M452.3 465.5H460.7M456.5 461.3V469.7M453.3 463.5H461.7M457.5 459.3V467.7M453.3 463.5H461.7M457.5 459.3V467.7M454.3 459.5H462.7M458.5 455.3V463.7M454.3 462.5H462.7M458.5 458.3V466.7M454.3 462.5H462.7M458.5 458.3V466.7M455.3 463.5H463.7M459.5 459.3V467.7M455.3 463.5H463.7M459.5 459.3V467.7M456.3 462.5H464.7M460.5 458.3V466.7M456.3 459.5H464.7M460.5 455.3V463.7M457.3 464.5H465.7M461.5 460.3V468.7M457.3 463.5H465.7M461.5 459.3V467.7M457.3 463.5H465.7M461.5 459.3V467.7M458.3 461.5H466.7M462.5 457.3V465.7M458.3 460.5H466.7M462.5 456.3V464.7M459.3 463.5H467.7M463.5 459.3V467.7M460.3 463.5H468.7M464.5 459.3V467.7M460.3 462.5H468.7M464.5 458.3V466.7M461.3 459.5H469.7M465.5 455.3V463.7M461.3 465.5H469.7M465.5 461.3V469.7M462.3 463.5H470.7M466.5 459.3V467.7M462.3 463.5H470.7M466.5 459.3V467.7M463.3 463.5H471.7M467.5 459.3V467.7M464.3 462.5H472.7M468.5 458.3V466.7M464.3 463.5H472.7M468.5 459.3V467.7M465.3 463.5H473.7M469.5 459.3V467.7M465.3 460.5H473.7M469.5 456.3V464.7M466.3 463.5H474.7M470.5 459.3V467.7M466.3 461.5H474.7M470.5 457.3V465.7M467.3 459.5H475.7M471.5 455.3V463.7M467.3 463.5H475.7M471.5 459.3V467.7M467.3 465.5H475.7M471.5 461.3V469.7M468.3 464.5H476.7M472.5 460.3V468.7M468.3 463.5H476.7M472.5 459.3V467.7M469.3 464.5H477.7M473.5 460.3V468.7M469.3 460.5H477.7M473.5 456.3V464.7M469.3 464.5H477.7M473.5 460.3V468.7M470.3 462.5H478.7M474.5 458.3V466.7M470.3 459.5H478.7M474.5 455.3V463.7M471.3 464.5H479.7M475.5 460.3V468.7M472.3 465.5H480.7M476.5 461.3V469.7M472.3 463.5H480.7M476.5 459.3V467.7M473.3 465.5H481.7M477.5 461.3V469.7M473.3 461.5H481.7M477.5 457.3V465.7M474.3 462.5H482.7M478.5 458.3V466.7M474.3 465.5H482.7M478.5 461.3V469.7M475.3 464.5H483.7M479.5 460.3V468.7M475.3 462.5H483.7M479.5 458.3V466.7M476.3 463.5H484.7M480.5 459.3V467.7M476.3 462.5H484.7M480.5 458.3V466.7M476.3 460.5H484.7M480.5 456.3V464.7M477.3 467.5H485.7M481.5 463.3V471.7M478.3 457.5H486.7M482.5 453.3V461.7M478.3 467.5H486.7M482.5 463.3V471.7M479.3 457.5H487.7M483.5 453.3V461.7M480.3 462.5H488.7M484.5 458.3V466.7M480.3 464.5H488.7M484.5 460.3V468.7M480.3 467.5H488.7M484.5 463.3V471.7M481.3 461.5H489.7M485.5 457.3V465.7M482.3 461.5H490.7M486.5 457.3V465.7M482.3 462.5H490.7M486.5 458.3V466.7M483.3 462.5H491.7M487.5 458.3V466.7M483.3 463.5H491.7M487.5 459.3V467.7M483.3 457.5H491.7M487.5 453.3V461.7M484.3 463.5H492.7M488.5 459.3V467.7M484.3 463.5H492.7M488.5 459.3V467.7M485.3 466.5H493.7M489.5 462.3V470.7M486.3 467.5H494.7M490.5 463.3V471.7M486.3 463.5H494.7M490.5 459.3V467.7M487.3 458.5H495.7M491.5 454.3V462.7M487.3 462.5H495.7M491.5 458.3V466.7M487.3 466.5H495.7M491.5 462.3V470.7M488.3 463.5H496.7M492.5 459.3V467.7M488.3 457.5H496.7M492.5 453.3V461.7M489.3 458.5H497.7M493.5 454.3V462.7M490.3 462.5H498.7M494.5 458.3V466.7M490.3 463.5H498.7M494.5 459.3V467.7M491.3 466.5H499.7M495.5 462.3V470.7M491.3 462.5H499.7M495.5 458.3V466.7M492.3 466.5H500.7M496.5 462.3V470.7M492.3 467.5H500.7M496.5 463.3V471.7M492.3 464.5H500.7M496.5 460.3V468.7M493.3 467.5H501.7M497.5 463.3V471.7M493.3 459.5H501.7M497.5 455.3V463.7M494.3 463.5H502.7M498.5 459.3V467.7M494.3 466.5H502.7M498.5 462.3V470.7M495.3 459.5H503.7M499.5 455.3V463.7M496.3 465.5H504.7M500.5 461.3V469.7M496.3 458.5H504.7M500.5 454.3V462.7M497.3 464.5H505.7M501.5 460.3V468.7M498.3 459.5H506.7M502.5 455.3V463.7M498.3 464.5H506.7M502.5 460.3V468.7M498.3 467.5H506.7M502.5 463.3V471.7M499.3 461.5H507.7M503.5 457.3V465.7M499.3 463.5H507.7M503.5 459.3V467.7M500.3 461.5H508.7M504.5 457.3V465.7M500.3 460.5H508.7M504.5 456.3V464.7M501.3 457.5H509.7M505.5 453.3V461.7M501.3 462.5H509.7M505.5 458.3V466.7M501.3 461.5H509.7M505.5 457.3V465.7M502.3 462.5H510.7M506.5 458.3V466.7M502.3 466.5H510.7M506.5 462.3V470.7M503.3 466.5H511.7M507.5 462.3V470.7M503.3 464.5H511.7M507.5 460.3V468.7M504.3 467.5H512.7M508.5 463.3V471.7M504.3 463.5H512.7M508.5 459.3V467.7M505.3 458.5H513.7M509.5 454.3V462.7M505.3 463.5H513.7M509.5 459.3V467.7M506.3 462.5H514.7M510.5 458.3V466.7M506.3 462.5H514.7M510.5 458.3V466.7M507.3 462.5H515.7M511.5 458.3V466.7M507.3 462.5H515.7M511.5 458.3V466.7M508.3 458.5H516.7M512.5 454.3V462.7M508.3 459.5H516.7M512.5 455.3V463.7M509.3 457.5H517.7M513.5 453.3V461.7M509.3 463.5H517.7M513.5 459.3V467.7M510.3 464.5H518.7M514.5 460.3V468.7M510.3 467.5H518.7M514.5 463.3V471.7M511.3 464.5H519.7M515.5 460.3V468.7M512.3 465.5H520.7M516.5 461.3V469.7M512.3 457.5H520.7M516.5 453.3V461.7M512.3 461.5H520.7M516.5 457.3V465.7M513.3 462.5H521.7M517.5 458.3V466.7M513.3 462.5H521.7M517.5 458.3V466.7M514.3 459.5H522.7M518.5 455.3V463.7M514.3 464.5H522.7M518.5 460.3V468.7M515.3 457.5H523.7M519.5 453.3V461.7M515.3 464.5H523.7M519.5 460.3V468.7M516.3 458.5H524.7M520.5 454.3V462.7M516.3 463.5H524.7M520.5 459.3V467.7M516.3 464.5H524.7M520.5 460.3V468.7M517.3 459.5H525.7M521.5 455.3V463.7M517.3 464.5H525.7M521.5 460.3V468.7M518.3 459.5H526.7M522.5 455.3V463.7M518.3 466.5H526.7M522.5 462.3V470.7M518.3 459.5H526.7M522.5 455.3V463.7M519.3 458.5H527.7M523.5 454.3V462.7M520.3 467.5H528.7M524.5 463.3V471.7M520.3 461.5H528.7M524.5 457.3V465.7M521.3 461.5H529.7M525.5 457.3V465.7M521.3 457.5H529.7M525.5 453.3V461.7M522.3 463.5H530.7M526.5 459.3V467.7M523.3 464.5H531.7M527.5 460.3V468.7M523.3 463.5H531.7M527.5 459.3V467.7M524.3 463.5H532.7M528.5 459.3V467.7M524.3 460.5H532.7M528.5 456.3V464.7M525.3 457.5H533.7M529.5 453.3V461.7M525.3 463.5H533.7M529.5 459.3V467.7M525.3 459.5H533.7M529.5 455.3V463.7M526.3 457.5H534.7M530.5 453.3V461.7M526.3 458.5H534.7M530.5 454.3V462.7M526.3 463.5H534.7M530.5 459.3V467.7M527.3 460.5H535.7M531.5 456.3V464.7M527.3 460.5H535.7M531.5 456.3V464.7M528.3 464.5H536.7M532.5 460.3V468.7M528.3 464.5H536.7M532.5 460.3V468.7M529.3 464.5H537.7M533.5 460.3V468.7M529.3 461.5H537.7M533.5 457.3V465.7M529.3 464.5H537.7M533.5 460.3V468.7M530.3 465.5H538.7M534.5 461.3V469.7M530.3 465.5H538.7M534.5 461.3V469.7M531.3 462.5H539.7M535.5 458.3V466.7M532.3 465.5H540.7M536.5 461.3V469.7M532.3 458.5H540.7M536.5 454.3V462.7M533.3 463.5H541.7M537.5 459.3V467.7M533.3 458.5H541.7M537.5 454.3V462.7M534.3 464.5H542.7M538.5 460.3V468.7M534.3 462.5H542.7M538.5 458.3V466.7M535.3 465.5H543.7M539.5 461.3V469.7M535.3 461.5H543.7M539.5 457.3V465.7M536.3 461.5H544.7M540.5 457.3V465.7M536.3 464.5H544.7M540.5 460.3V468.7M537.3 466.5H545.7M541.5 462.3V470.7M538.3 461.5H546.7M542.5 457.3V465.7M538.3 460.5H546.7M542.5 456.3V464.7M538.3 463.5H546.7M542.5 459.3V467.7M539.3 461.5H547.7M543.5 457.3V465.7M539.3 467.5H547.7M543.5 463.3V471.7M540.3 459.5H548.7M544.5 455.3V463.7M541.3 462.5H549.7M545.5 458.3V466.7M541.3 462.5H549.7M545.5 458.3V466.7M541.3 460.5H549.7M545.5 456.3V464.7M542.3 467.5H550.7M546.5 463.3V471.7M542.3 465.5H550.7M546.5 461.3V469.7M543.3 467.5H551.7M547.5 463.3V471.7M544.3 463.5H552.7M548.5 459.3V467.7M544.3 463.5H552.7M548.5 459.3V467.7M545.3 467.5H553.7M549.5 463.3V471.7M545.3 465.5H553.7M549.5 461.3V469.7M546.3 461.5H554.7M550.5 457.3V465.7M546.3 462.5H554.7M550.5 458.3V466.7M547.3 458.5H555.7M551.5 454.3V462.7M547.3 459.5H555.7M551.5 455.3V463.7M548.3 457.5H556.7M552.5 453.3V461.7M548.3 464.5H556.7M552.5 460.3V468.7M549.3 462.5H557.7M553.5 458.3V466.7M549.3 465.5H557.7M553.5 461.3V469.7M550.3 457.5H558.7M554.5 453.3V461.7M550.3 464.5H558.7M554.5 460.3V468.7M551.3 465.5H559.7M555.5 461.3V469.7M551.3 457.5H559.7M555.5 453.3V461.7M551.3 464.5H559.7M555.5 460.3V468.7M552.3 460.5H560.7M556.5 456.3V464.7M552.3 467.5H560.7M556.5 463.3V471.7M553.3 464.5H561.7M557.5 460.3V468.7M553.3 467.5H561.7M557.5 463.3V471.7M554.3 465.5H562.7M558.5 461.3V469.7M555.3 458.5H563.7M559.5 454.3V462.7M555.3 460.5H563.7M559.5 456.3V464.7M555.3 457.5H563.7M559.5 453.3V461.7M556.3 466.5H564.7M560.5 462.3V470.7M557.3 458.5H565.7M561.5 454.3V462.7M557.3 464.5H565.7M561.5 460.3V468.7M558.3 463.5H566.7M562.5 459.3V467.7M558.3 458.5H566.7M562.5 454.3V462.7M559.3 464.5H567.7M563.5 460.3V468.7M559.3 462.5H567.7M563.5 458.3V466.7M559.3 461.5H567.7M563.5 457.3V465.7M560.3 461.5H568.7M564.5 457.3V465.7M560.3 457.5H568.7M564.5 453.3V461.7M561.3 462.5H569.7M565.5 458.3V466.7M562.3 466.5H570.7M566.5 462.3V470.7M563.3 463.5H571.7M567.5 459.3V467.7M563.3 461.5H571.7M567.5 457.3V465.7M564.3 457.5H572.7M568.5 453.3V461.7M564.3 457.5H572.7M568.5 453.3V461.7M565.3 466.5H573.7M569.5 462.3V470.7M565.3 463.5H573.7M569.5 459.3V467.7M566.3 463.5H574.7M570.5 459.3V467.7M566.3 465.5H574.7M570.5 461.3V469.7M567.3 458.5H575.7M571.5 454.3V462.7M567.3 461.5H575.7M571.5 457.3V465.7M568.3 457.5H576.7M572.5 453.3V461.7M568.3 461.5H576.7M572.5 457.3V465.7M569.3 457.5H577.7M573.5 453.3V461.7M569.3 463.5H577.7M573.5 459.3V467.7M569.3 465.5H577.7M573.5 461.3V469.7M570.3 459.5H578.7M574.5 455.3V463.7M571.3 464.5H579.7M575.5 460.3V468.7M571.3 467.5H579.7M575.5 463.3V471.7M572.3 464.5H580.7M576.5 460.3V468.7M573.3 461.5H581.7M577.5 457.3V465.7M573.3 465.5H581.7M577.5 461.3V469.7M574.3 459.5H582.7M578.5 455.3V463.7M574.3 464.5H582.7M578.5 460.3V468.7M575.3 463.5H583.7M579.5 459.3V467.7M575.3 465.5H583.7M579.5 461.3V469.7M576.3 458.5H584.7M580.5 454.3V462.7M576.3 462.5H584.7M580.5 458.3V466.7M577.3 462.5H585.7M581.5 458.3V466.7M577.3 465.5H585.7M581.5 461.3V469.7M578.3 464.5H586.7M582.5 460.3V468.7M578.3 460.5H586.7M582.5 456.3V464.7M578.3 462.5H586.7M582.5 458.3V466.7M579.3 463.5H587.7M583.5 459.3V467.7M579.3 464.5H587.7M583.5 460.3V468.7M580.3 463.5H588.7M584.5 459.3V467.7M580.3 464.5H588.7M584.5 460.3V468.7M580.3 466.5H588.7M584.5 462.3V470.7M581.3 457.5H589.7M585.5 453.3V461.7M581.3 462.5H589.7M585.5 458.3V466.7M582.3 467.5H590.7M586.5 463.3V471.7M583.3 464.5H591.7M587.5 460.3V468.7M583.3 462.5H591.7M587.5 458.3V466.7M583.3 463.5H591.7M587.5 459.3V467.7M584.3 461.5H592.7M588.5 457.3V465.7M585.3 459.5H593.7M589.5 455.3V463.7M585.3 464.5H593.7M589.5 460.3V468.7M586.3 460.5H594.7M590.5 456.3V464.7M586.3 461.5H594.7M590.5 457.3V465.7M587.3 465.5H595.7M591.5 461.3V469.7M587.3 464.5H595.7M591.5 460.3V468.7M588.3 459.5H596.7M592.5 455.3V463.7M588.3 465.5H596.7M592.5 461.3V469.7M589.3 463.5H597.7M593.5 459.3V467.7M589.3 460.5H597.7M593.5 456.3V464.7M590.3 460.5H598.7M594.5 456.3V464.7M590.3 465.5H598.7M594.5 461.3V469.7M591.3 462.5H599.7M595.5 458.3V466.7M592.3 461.5H600.7M596.5 457.3V465.7M593.3 462.5H601.7M597.5 458.3V466.7M594.3 463.5H602.7M598.5 459.3V467.7M595.3 464.5H603.7M599.5 460.3V468.7M596.3 461.5H604.7M600.5 457.3V465.7M597.3 461.5H605.7M601.5 457.3V465.7M597.3 464.5H605.7M601.5 460.3V468.7M598.3 460.5H606.7M602.5 456.3V464.7M599.3 464.5H607.7M603.5 460.3V468.7M600.3 465.5H608.7M604.5 461.3V469.7M601.3 463.5H609.7M605.5 459.3V467.7M602.3 462.5H610.7M606.5 458.3V466.7M603.3 464.5H611.7M607.5 460.3V468.7M603.3 462.5H611.7M607.5 458.3V466.7M604.3 464.5H612.7M608.5 460.3V468.7M605.3 466.5H613.7M609.5 462.3V470.7M606.3 464.5H614.7M610.5 460.3V468.7M607.3 467.5H615.7M611.5 463.3V471.7M609.3 467.5H617.7M613.5 463.3V471.7M610.3 462.5H618.7M614.5 458.3V466.7M611.3 467.5H619.7M615.5 463.3V471.7M611.3 464.5H619.7M615.5 460.3V468.7M612.3 467.5H620.7M616.5 463.3V471.7M613.3 464.5H621.7M617.5 460.3V468.7M613.3 464.5H621.7M617.5 460.3V468.7M614.3 467.5H622.7M618.5 463.3V471.7M615.3 464.5H623.7M619.5 460.3V468.7M616.3 460.5H624.7M620.5 456.3V464.7M617.3 464.5H625.7M621.5 460.3V468.7M618.3 467.5H626.7M622.5 463.3V471.7M619.3 462.5H627.7M623.5 458.3V466.7M620.3 463.5H628.7M624.5 459.3V467.7M621.3 464.5H629.7M625.5 460.3V468.7M622.3 461.5H630.7M626.5 457.3V465.7M623.3 465.5H631.7M627.5 461.3V469.7M623.3 462.5H631.7M627.5 458.3V466.7M624.3 461.5H632.7M628.5 457.3V465.7M625.3 464.5H633.7M629.5 460.3V468.7M626.3 464.5H634.7M630.5 460.3V468.7M627.3 467.5H635.7M631.5 463.3V471.7M628.3 463.5H636.7M632.5 459.3V467.7M629.3 464.5H637.7M633.5 460.3V468.7M630.3 464.5H638.7M634.5 460.3V468.7M631.3 467.5H639.7M635.5 463.3V471.7M631.3 465.5H639.7M635.5 461.3V469.7M632.3 461.5H640.7M636.5 457.3V465.7M633.3 466.5H641.7M637.5 462.3V470.7M634.3 460.5H642.7M638.5 456.3V464.7M635.3 464.5H643.7M639.5 460.3V468.7M636.3 460.5H644.7M640.5 456.3V464.7M636.3 464.5H644.7M640.5 460.3V468.7M637.3 467.5H645.7M641.5 463.3V471.7M638.3 463.5H646.7M642.5 459.3V467.7M638.3 463.5H646.7M642.5 459.3V467.7M639.3 465.5H647.7M643.5 461.3V469.7M641.3 464.5H649.7M645.5 460.3V468.7M641.3 462.5H649.7M645.5 458.3V466.7M335.3 460.5H343.7M339.5 456.3V464.7M336.3 462.5H344.7M340.5 458.3V466.7M338.3 462.5H346.7M342.5 458.3V466.7M340.3 461.5H348.7M344.5 457.3V465.7M341.3 465.5H349.7M345.5 461.3V469.7M343.3 463.5H351.7M347.5 459.3V467.7M344.3 461.5H352.7M348.5 457.3V465.7M346.3 466.5H354.7M350.5 462.3V470.7M348.3 462.5H356.7M352.5 458.3V466.7M349.3 465.5H357.7M353.5 461.3V469.7M351.3 465.5H359.7M355.5 461.3V469.7M352.3 466.5H360.7M356.5 462.3V470.7M353.3 463.5H361.7M357.5 459.3V467.7M354.3 463.5H362.7M358.5 459.3V467.7M356.3 466.5H364.7M360.5 462.3V470.7M357.3 460.5H365.7M361.5 456.3V464.7M359.3 464.5H367.7M363.5 460.3V468.7M360.3 463.5H368.7M364.5 459.3V467.7M362.3 459.5H370.7M366.5 455.3V463.7M363.3 464.5H371.7M367.5 460.3V468.7M365.3 461.5H373.7M369.5 457.3V465.7M366.3 464.5H374.7M370.5 460.3V468.7M368.3 459.5H376.7M372.5 455.3V463.7M370.3 462.5H378.7M374.5 458.3V466.7M372.3 463.5H380.7M376.5 459.3V467.7M373.3 460.5H381.7M377.5 456.3V464.7M374.3 462.5H382.7M378.5 458.3V466.7M376.3 466.5H384.7M380.5 462.3V470.7M377.3 461.5H385.7M381.5 457.3V465.7M378.3 465.5H386.7M382.5 461.3V469.7M380.3 461.5H388.7M384.5 457.3V465.7M381.3 460.5H389.7M385.5 456.3V464.7M383.3 463.5H391.7M387.5 459.3V467.7M384.3 462.5H392.7M388.5 458.3V466.7M386.3 466.5H394.7M390.5 462.3V470.7M387.3 460.5H395.7M391.5 456.3V464.7M387.3 463.5H395.7M391.5 459.3V467.7M388.3 461.5H396.7M392.5 457.3V465.7M388.3 459.5H396.7M392.5 455.3V463.7M389.3 461.5H397.7M393.5 457.3V465.7M390.3 462.5H398.7M394.5 458.3V466.7M390.3 459.5H398.7M394.5 455.3V463.7M391.3 464.5H399.7M395.5 460.3V468.7M391.3 466.5H399.7M395.5 462.3V470.7M392.3 466.5H400.7M396.5 462.3V470.7M392.3 465.5H400.7M396.5 461.3V469.7M393.3 460.5H401.7M397.5 456.3V464.7M394.3 464.5H402.7M398.5 460.3V468.7M394.3 459.5H402.7M398.5 455.3V463.7M395.3 459.5H403.7M399.5 455.3V463.7M395.3 464.5H403.7M399.5 460.3V468.7M396.3 460.5H404.7M400.5 456.3V464.7M397.3 466.5H405.7M401.5 462.3V470.7M398.3 461.5H406.7M402.5 457.3V465.7M398.3 465.5H406.7M402.5 461.3V469.7M399.3 464.5H407.7M403.5 460.3V468.7M399.3 464.5H407.7M403.5 460.3V468.7M399.3 462.5H407.7M403.5 458.3V466.7M400.3 464.5H408.7M404.5 460.3V468.7M400.3 459.5H408.7M404.5 455.3V463.7M401.3 463.5H409.7M405.5 459.3V467.7M402.3 466.5H410.7M406.5 462.3V470.7M402.3 463.5H410.7M406.5 459.3V467.7M403.3 464.5H411.7M407.5 460.3V468.7M404.3 466.5H412.7M408.5 462.3V470.7M405.3 464.5H413.7M409.5 460.3V468.7M405.3 463.5H413.7M409.5 459.3V467.7M406.3 460.5H414.7M410.5 456.3V464.7M406.3 459.5H414.7M410.5 455.3V463.7M407.3 465.5H415.7M411.5 461.3V469.7M408.3 459.5H416.7M412.5 455.3V463.7M408.3 460.5H416.7M412.5 456.3V464.7M408.3 462.5H416.7M412.5 458.3V466.7M409.3 466.5H417.7M413.5 462.3V470.7M410.3 459.5H418.7M414.5 455.3V463.7M411.3 465.5H419.7M415.5 461.3V469.7M411.3 460.5H419.7M415.5 456.3V464.7M412.3 466.5H420.7M416.5 462.3V470.7M412.3 461.5H420.7M416.5 457.3V465.7M413.3 461.5H421.7M417.5 457.3V465.7M414.3 465.5H422.7M418.5 461.3V469.7M414.3 459.5H422.7M418.5 455.3V463.7M415.3 461.5H423.7M419.5 457.3V465.7M416.3 463.5H424.7M420.5 459.3V467.7M416.3 461.5H424.7M420.5 457.3V465.7" stroke="#00bfbf" stroke-width="0.85" fill="none"/>
<path d="M344.3 333.3L352.7 341.7M344.3 341.7L352.7 333.3M371.3 329.3L379.7 337.7M371.3 337.7L379.7 329.3M311.3 357.3L319.7 365.7M311.3 365.7L319.7 357.3M351.3 358.3L359.7 366.7M351.3 366.7L359.7 358.3M379.3 399.3L387.7 407.7M379.3 407.7L387.7 399.3M396.3 405.3L404.7 413.7M396.3 413.7L404.7 405.3M361.3 448.3L369.7 456.7M361.3 456.7L369.7 448.3M341.3 452.3L349.7 460.7M341.3 460.7L349.7 452.3M408.3 433.3L416.7 441.7M408.3 441.7L416.7 433.3M280.3 334.3L288.7 342.7M280.3 342.7L288.7 334.3M335.3 456.3L343.7 464.7M335.3 464.7L343.7 456.3M336.3 458.3L344.7 466.7M336.3 466.7L344.7 458.3M338.3 458.3L346.7 466.7M338.3 466.7L346.7 458.3M340.3 457.3L348.7 465.7M340.3 465.7L348.7 457.3M341.3 461.3L349.7 469.7M341.3 469.7L349.7 461.3M343.3 459.3L351.7 467.7M343.3 467.7L351.7 459.3M344.3 457.3L352.7 465.7M344.3 465.7L352.7 457.3M346.3 462.3L354.7 470.7M346.3 470.7L354.7 462.3M348.3 458.3L356.7 466.7M348.3 466.7L356.7 458.3M349.3 461.3L357.7 469.7M349.3 469.7L357.7 461.3M351.3 461.3L359.7 469.7M351.3 469.7L359.7 461.3M352.3 462.3L360.7 470.7M352.3 470.7L360.7 462.3M353.3 459.3L361.7 467.7M353.3 467.7L361.7 459.3M354.3 459.3L362.7 467.7M354.3 467.7L362.7 459.3M356.3 462.3L364.7 470.7M356.3 470.7L364.7 462.3M357.3 456.3L365.7 464.7M357.3 464.7L365.7 456.3M359.3 460.3L367.7 468.7M359.3 468.7L367.7 460.3M360.3 459.3L368.7 467.7M360.3 467.7L368.7 459.3M362.3 455.3L370.7 463.7M362.3 463.7L370.7 455.3M363.3 460.3L371.7 468.7M363.3 468.7L371.7 460.3M365.3 457.3L373.7 465.7M365.3 465.7L373.7 457.3M366.3 460.3L374.7 468.7M366.3 468.7L374.7 460.3M368.3 455.3L376.7 463.7M368.3 463.7L376.7 455.3M370.3 458.3L378.7 466.7M370.3 466.7L378.7 458.3M372.3 459.3L380.7 467.7M372.3 467.7L380.7 459.3M373.3 456.3L381.7 464.7M373.3 464.7L381.7 456.3M374.3 458.3L382.7 466.7M374.3 466.7L382.7 458.3M376.3 462.3L384.7 470.7M376.3 470.7L384.7 462.3M377.3 457.3L385.7 465.7M377.3 465.7L385.7 457.3M378.3 461.3L386.7 469.7M378.3 469.7L386.7 461.3M380.3 457.3L388.7 465.7M380.3 465.7L388.7 457.3M381.3 456.3L389.7 464.7M381.3 464.7L389.7 456.3M383.3 459.3L391.7 467.7M383.3 467.7L391.7 459.3M384.3 458.3L392.7 466.7M384.3 466.7L392.7 458.3M386.3 462.3L394.7 470.7M386.3 470.7L394.7 462.3M387.3 456.3L395.7 464.7M387.3 464.7L395.7 456.3M387.3 459.3L395.7 467.7M387.3 467.7L395.7 459.3M388.3 457.3L396.7 465.7M388.3 465.7L396.7 457.3M388.3 455.3L396.7 463.7M388.3 463.7L396.7 455.3M389.3 457.3L397.7 465.7M389.3 465.7L397.7 457.3M390.3 458.3L398.7 466.7M390.3 466.7L398.7 458.3M390.3 455.3L398.7 463.7M390.3 463.7L398.7 455.3M391.3 460.3L399.7 468.7M391.3 468.7L399.7 460.3M391.3 462.3L399.7 470.7M391.3 470.7L399.7 462.3M392.3 462.3L400.7 470.7M392.3 470.7L400.7 462.3M392.3 461.3L400.7 469.7M392.3 469.7L400.7 461.3M393.3 456.3L401.7 464.7M393.3 464.7L401.7 456.3M394.3 460.3L402.7 468.7M394.3 468.7L402.7 460.3M394.3 455.3L402.7 463.7M394.3 463.7L402.7 455.3M395.3 455.3L403.7 463.7M395.3 463.7L403.7 455.3M395.3 460.3L403.7 468.7M395.3 468.7L403.7 460.3M396.3 456.3L404.7 464.7M396.3 464.7L404.7 456.3M397.3 462.3L405.7 470.7M397.3 470.7L405.7 462.3M398.3 457.3L406.7 465.7M398.3 465.7L406.7 457.3M398.3 461.3L406.7 469.7M398.3 469.7L406.7 461.3M399.3 460.3L407.7 468.7M399.3 468.7L407.7 460.3M399.3 460.3L407.7 468.7M399.3 468.7L407.7 460.3M399.3 458.3L407.7 466.7M399.3 466.7L407.7 458.3M400.3 460.3L408.7 468.7M400.3 468.7L408.7 460.3M400.3 455.3L408.7 463.7M400.3 463.7L408.7 455.3M401.3 459.3L409.7 467.7M401.3 467.7L409.7 459.3M402.3 462.3L410.7 470.7M402.3 470.7L410.7 462.3M402.3 459.3L410.7 467.7M402.3 467.7L410.7 459.3M403.3 460.3L411.7 468.7M403.3 468.7L411.7 460.3M404.3 462.3L412.7 470.7M404.3 470.7L412.7 462.3M405.3 460.3L413.7 468.7M405.3 468.7L413.7 460.3M405.3 459.3L413.7 467.7M405.3 467.7L413.7 459.3M406.3 456.3L414.7 464.7M406.3 464.7L414.7 456.3M406.3 455.3L414.7 463.7M406.3 463.7L414.7 455.3M407.3 461.3L415.7 469.7M407.3 469.7L415.7 461.3M408.3 455.3L416.7 463.7M408.3 463.7L416.7 455.3M408.3 456.3L416.7 464.7M408.3 464.7L416.7 456.3M408.3 458.3L416.7 466.7M408.3 466.7L416.7 458.3M409.3 462.3L417.7 470.7M409.3 470.7L417.7 462.3M410.3 455.3L418.7 463.7M410.3 463.7L418.7 455.3M411.3 461.3L419.7 469.7M411.3 469.7L419.7 461.3M411.3 456.3L419.7 464.7M411.3 464.7L419.7 456.3M412.3 462.3L420.7 470.7M412.3 470.7L420.7 462.3M412.3 457.3L420.7 465.7M412.3 465.7L420.7 457.3M413.3 457.3L421.7 465.7M413.3 465.7L421.7 457.3M414.3 461.3L422.7 469.7M414.3 469.7L422.7 461.3M414.3 455.3L422.7 463.7M414.3 463.7L422.7 455.3M415.3 457.3L423.7 465.7M415.3 465.7L423.7 457.3M416.3 459.3L424.7 467.7M416.3 467.7L424.7 459.3M416.3 457.3L424.7 465.7M416.3 465.7L424.7 457.3" stroke="#0000ff" stroke-width="0.9" fill="none"/>
<circle cx="343.5" cy="463.5" r="4.5" fill="#000"/>
<circle cx="346.0" cy="462.9" r="4.5" fill="#000"/>
<circle cx="348.5" cy="463.8" r="4.5" fill="#000"/>
<circle cx="351.0" cy="464.1" r="4.5" fill="#000"/>
<circle cx="353.5" cy="464.1" r="4.5" fill="#000"/>
<circle cx="356.0" cy="462.9" r="4.5" fill="#000"/>
<circle cx="358.5" cy="463.8" r="4.5" fill="#000"/>
<circle cx="361.0" cy="464.1" r="4.5" fill="#000"/>
<circle cx="363.5" cy="464.1" r="4.5" fill="#000"/>
<circle cx="366.0" cy="462.9" r="4.5" fill="#000"/>
<circle cx="368.5" cy="462.9" r="4.5" fill="#000"/>
<circle cx="371.0" cy="463.8" r="4.5" fill="#000"/>
<circle cx="373.5" cy="464.1" r="4.5" fill="#000"/>
<circle cx="376.0" cy="463.8" r="4.5" fill="#000"/>
<circle cx="378.5" cy="462.8" r="4.5" fill="#000"/>
<circle cx="381.0" cy="461.9" r="4.5" fill="#000"/>
<circle cx="383.5" cy="461.9" r="4.5" fill="#000"/>
<circle cx="386.0" cy="462.8" r="4.5" fill="#000"/>
<circle cx="388.5" cy="463.1" r="4.5" fill="#000"/>
<circle cx="377.5" cy="469.5" r="4.5" fill="#000"/>
<path d="M100 463.4H720" stroke="#0000ff" stroke-width="1.39" stroke-dasharray="8.333 8.333" fill="none"/>
</g>
<rect x="100.5" y="60.5" width="620" height="480" fill="none" stroke="#000" stroke-width="1"/>
<path d="M100.50 540.5v-6M183.50 540.5v-6M265.50 540.5v-6M348.50 540.5v-6M431.50 540.5v-6M513.50 540.5v-6M596.50 540.5v-6M679.50 540.5v-6M137.50 60.5v6M220.50 60.5v6M303.50 60.5v6M385.50 60.5v6M468.50 60.5v6M551.50 60.5v6M633.50 60.5v6M716.50 60.5v6M100.5 540.5h6M720.5 540.5h-6M100.5 420.5h6M720.5 420.5h-6M100.5 300.5h6M720.5 300.5h-6M100.5 180.5h6M720.5 180.5h-6M100.5 60.5h6M720.5 60.5h-6" stroke="#000" stroke-width="0.8" fill="none"/>
<rect x="398.5" y="70.5" width="312" height="122" fill="#fff" stroke="#000" stroke-width="1"/>
<path d="M408.3 86.5H416.7M412.5 82.3V90.7M436.3 86.5H444.7M440.5 82.3V90.7" stroke="#00bfbf" stroke-width="0.85" fill="none"/>
<path d="M408.3 111.3L416.7 119.7M408.3 119.7L416.7 111.3M436.3 111.3L444.7 119.7M436.3 119.7L444.7 111.3" stroke="#0000ff" stroke-width="0.9" fill="none"/>
<circle cx="412.5" cy="144.5" r="4.5" fill="#000"/><circle cx="440.5" cy="144.5" r="4.5" fill="#000"/>
<path d="M412 173.6H440.5" stroke="#0000ff" stroke-width="1.39" stroke-dasharray="8.333 8.333" fill="none"/>
<text x="127.00" y="50" font-size="17.6" text-anchor="start" textLength="19.665" lengthAdjust="spacingAndGlyphs">14</text>
<text x="209.75" y="50" font-size="17.6" text-anchor="start" textLength="20.496" lengthAdjust="spacingAndGlyphs">16</text>
<text x="292.10" y="50" font-size="17.6" text-anchor="start" textLength="20.254" lengthAdjust="spacingAndGlyphs">18</text>
<text x="375.10" y="50" font-size="17.6" text-anchor="start" textLength="20.549" lengthAdjust="spacingAndGlyphs">20</text>
<text x="457.60" y="50" font-size="17.6" text-anchor="start" textLength="20.737" lengthAdjust="spacingAndGlyphs">22</text>
<text x="540.00" y="50" font-size="17.6" text-anchor="start" textLength="20.204" lengthAdjust="spacingAndGlyphs">24</text>
<text x="622.60" y="50" font-size="17.6" text-anchor="start" textLength="20.712" lengthAdjust="spacingAndGlyphs">26</text>
<text x="704.60" y="50" font-size="17.6" text-anchor="start" textLength="20.716" lengthAdjust="spacingAndGlyphs">28</text>
<text x="75.10" y="64.75" font-size="17.6" text-anchor="start" textLength="20.549" lengthAdjust="spacingAndGlyphs">20</text>
<text x="76.50" y="184.75" font-size="17.6" text-anchor="start" textLength="19.234" lengthAdjust="spacingAndGlyphs">15</text>
<text x="74.90" y="304.75" font-size="17.6" text-anchor="start" textLength="20.857" lengthAdjust="spacingAndGlyphs">10</text>
<text x="86.00" y="424.75" font-size="17.6" text-anchor="start" textLength="9.787" lengthAdjust="spacingAndGlyphs">5</text>
<text x="85.55" y="544.75" font-size="17.6" text-anchor="start" textLength="10.153" lengthAdjust="spacingAndGlyphs">0</text>
<text x="96.00" y="559.75" font-size="17.6" text-anchor="start" textLength="20.629" lengthAdjust="spacingAndGlyphs">20</text>
<text x="179.27" y="559.75" font-size="17.6" text-anchor="start" textLength="20.254" lengthAdjust="spacingAndGlyphs">18</text>
<text x="261.98" y="559.75" font-size="17.6" text-anchor="start" textLength="20.25" lengthAdjust="spacingAndGlyphs">16</text>
<text x="344.75" y="559.75" font-size="17.6" text-anchor="start" textLength="19.665" lengthAdjust="spacingAndGlyphs">14</text>
<text x="427.27" y="559.75" font-size="17.6" text-anchor="start" textLength="20.294" lengthAdjust="spacingAndGlyphs">12</text>
<text x="509.98" y="559.75" font-size="17.6" text-anchor="start" textLength="19.942" lengthAdjust="spacingAndGlyphs">10</text>
<text x="597.00" y="559.75" font-size="17.6" text-anchor="start" textLength="10.57" lengthAdjust="spacingAndGlyphs">8</text>
<text x="679.52" y="559.75" font-size="17.6" text-anchor="start" textLength="10.863" lengthAdjust="spacingAndGlyphs">6</text>
<rect x="84.6" y="553.8" width="10.35" height="1.4" fill="#000"/>
<rect x="167.27" y="553.8" width="10.35" height="1.4" fill="#000"/>
<rect x="249.93" y="553.8" width="10.35" height="1.4" fill="#000"/>
<rect x="332.6" y="553.8" width="10.35" height="1.4" fill="#000"/>
<rect x="415.27" y="553.8" width="10.35" height="1.4" fill="#000"/>
<rect x="497.93" y="553.8" width="10.35" height="1.4" fill="#000"/>
<rect x="585.75" y="553.8" width="10.40" height="1.4" fill="#000"/>
<rect x="668.42" y="553.8" width="10.40" height="1.4" fill="#000"/>
<text transform="translate(64.4 346) rotate(-90)" x="-1.25" font-size="17.6" textLength="52.028" lengthAdjust="spacingAndGlyphs">FWHM</text>
<text transform="translate(64.4 346) rotate(-90)" x="55.75" font-size="17.6" textLength="38.42" lengthAdjust="spacingAndGlyphs">(pix)</text>
<text x="301.45" y="29" font-size="21.1" text-anchor="start" textLength="64.63" lengthAdjust="spacingAndGlyphs">FWHM</text>
<text x="372.25" y="29" font-size="21.1" text-anchor="start" textLength="22.05" lengthAdjust="spacingAndGlyphs">vs</text>
<text x="400.10" y="29" font-size="21.1" text-anchor="start" textLength="120.192" lengthAdjust="spacingAndGlyphs">magnitudes</text>
<text x="461.60" y="92.7" font-size="21.1" text-anchor="start" textLength="23.936" lengthAdjust="spacingAndGlyphs">all</text>
<text x="491.75" y="92.7" font-size="21.1" text-anchor="start" textLength="73.096" lengthAdjust="spacingAndGlyphs">sample</text>
<text x="461.85" y="121.5" font-size="21.1" text-anchor="start" textLength="73.192" lengthAdjust="spacingAndGlyphs">sample</text>
<text x="541.65" y="121.5" font-size="21.1" text-anchor="start" textLength="27.017" lengthAdjust="spacingAndGlyphs">for</text>
<text x="575.10" y="121.5" font-size="21.1" text-anchor="start" textLength="58.396" lengthAdjust="spacingAndGlyphs">rough</text>
<text x="639.95" y="121.5" font-size="21.1" text-anchor="start" textLength="64.524" lengthAdjust="spacingAndGlyphs">FWHM</text>
<text x="462.00" y="150.75" font-size="21.1" text-anchor="start" textLength="66.065" lengthAdjust="spacingAndGlyphs">coarse</text>
<text x="534.85" y="150.75" font-size="21.1" text-anchor="start" textLength="77.785" lengthAdjust="spacingAndGlyphs">PSF-like</text>
<text x="619.15" y="150.75" font-size="21.1" text-anchor="start" textLength="73.192" lengthAdjust="spacingAndGlyphs">sample</text>
<text x="462.45" y="179.5" font-size="21.1" text-anchor="start" textLength="90.171" lengthAdjust="spacingAndGlyphs">tentative</text>
<text x="559.05" y="179.5" font-size="21.1" text-anchor="start" textLength="64.539" lengthAdjust="spacingAndGlyphs">FWHM</text>
<text x="264.55" y="583.6" font-size="17.6" text-anchor="start" textLength="90.047" lengthAdjust="spacingAndGlyphs">magnitude</text>
<text x="360.15" y="583.6" font-size="17.6" text-anchor="start" textLength="102.121" lengthAdjust="spacingAndGlyphs">(bottom:isnt</text>
<text x="467.75" y="583.6" font-size="17.6" text-anchor="start" textLength="5.657" lengthAdjust="spacingAndGlyphs">/</text>
<text x="479.25" y="583.6" font-size="17.6" text-anchor="start" textLength="77.929" lengthAdjust="spacingAndGlyphs">top:calib)</text>
</svg>
</body></html>
